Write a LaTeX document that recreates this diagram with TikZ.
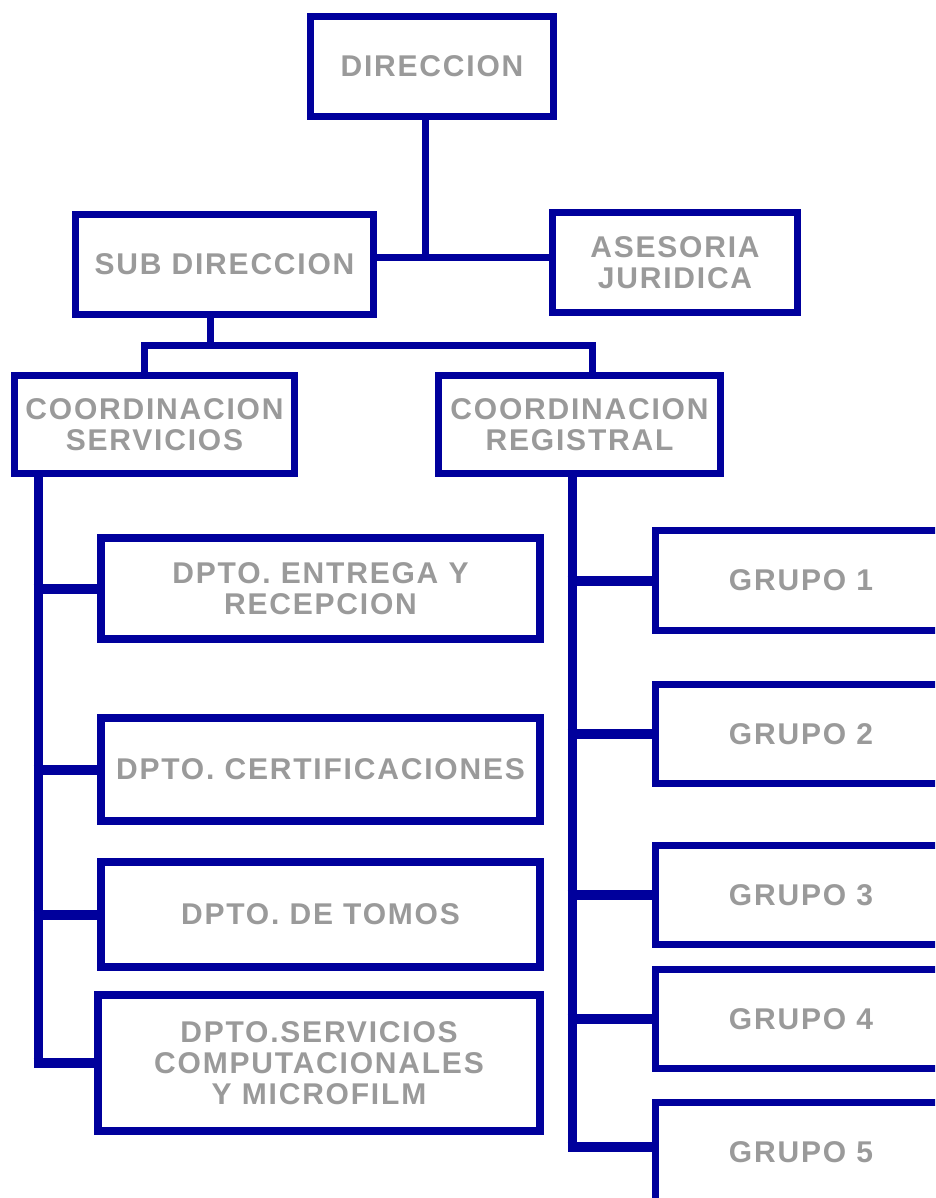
\documentclass[tikz,border=0pt]{standalone}
\usepackage{fontspec}
\setmainfont{Liberation Sans}[LetterSpace=6]
\definecolor{navy}{HTML}{00009C}
\definecolor{txt}{HTML}{9A9A9A}
\begin{document}
\begin{tikzpicture}[x=1pt,y=-1pt,
  box/.style={draw=navy, line width=7pt, rectangle, inner sep=0pt, align=center,
    text=txt, font=\fontsize{30}{31}\selectfont\bfseries},
  dbox/.style={box, line width=8pt},
  conn/.style={draw=navy, line width=7pt},
  spine/.style={draw=navy, line width=9pt},
  branch/.style={draw=navy, line width=10pt}]
\path[use as bounding box, clip] (0,0) rectangle (935,1198);
\fill[white] (0,0) rectangle (935,1198);

% top level
\node[box, minimum width=243pt, minimum height=100pt] (dir) at (432,66.5) {DIRECCION};
\node[box, minimum width=298pt, minimum height=100pt] (sub) at (224.5,264.5) {SUB DIRECCION};
\node[box, minimum width=245pt, minimum height=100pt] (ase) at (675,262.5) {ASESORIA\\JURIDICA};

% coordinations
\node[box, minimum width=280pt, minimum height=98pt] (cs) at (154.5,424.5) {COORDINACION\\SERVICIOS};
\node[box, minimum width=282pt, minimum height=98pt] (cr) at (579.5,424.5) {COORDINACION\\REGISTRAL};

% departments
\node[dbox, minimum width=439pt, minimum height=101pt] (d1) at (320.5,588.5) {DPTO. ENTREGA Y\\RECEPCION};
\node[dbox, minimum width=439pt, minimum height=103pt] (d2) at (320.5,769.5) {DPTO. CERTIFICACIONES};
\node[dbox, minimum width=439pt, minimum height=105pt] (d3) at (320.5,914.5) {DPTO. DE TOMOS};
\node[dbox, minimum width=442pt, minimum height=136pt] (d4) at (319,1063) {DPTO.SERVICIOS\\COMPUTACIONALES\\Y MICROFILM};

% groups
\node[box, minimum width=291pt, minimum height=100pt] (g1) at (801,580.5) {GRUPO 1};
\node[box, minimum width=291pt, minimum height=99pt] (g2) at (801,734) {GRUPO 2};
\node[box, minimum width=291pt, minimum height=99pt] (g3) at (801,895) {GRUPO 3};
\node[box, minimum width=291pt, minimum height=99pt] (g4) at (801,1019) {GRUPO 4};
\node[box, minimum width=291pt, minimum height=100pt] (g5) at (801,1152.5) {GRUPO 5};

% connectors top
\coordinate (j1) at (425,257);
\draw[conn] (dir.south -| j1) -- (j1);
\draw[conn] (sub.east |- j1) -- (ase.west |- j1);

\coordinate (j2) at (210,345);
\coordinate (jl) at (144,345);
\coordinate (jr) at (592,345);
\draw[conn] (sub.south -| j2) -- (j2);
\draw[conn] (cs.north -| jl) -- (jl) -- (jr) -- (cr.north -| jr);

% left spine
\coordinate (ls) at (38,0);
\draw[spine] (cs.south -| ls) -- (ls |- d4.west);
\draw[branch] ([xshift=-4.5pt]ls |- d1.west) -- (d1.west);
\draw[branch] ([xshift=-4.5pt]ls |- d2.west) -- (d2.west);
\draw[branch] ([xshift=-4.5pt]ls |- d3.west) -- (d3.west);
\draw[branch] ([xshift=-4.5pt]ls |- d4.west) -- (d4.west);

% right spine
\coordinate (rs) at (572,0);
\draw[spine] (cr.south -| rs) -- ([yshift=1pt]rs |- g5.west);
\draw[branch] ([xshift=-4.5pt]rs |- g1.west) -- (g1.west);
\draw[branch] ([xshift=-4.5pt]rs |- g2.west) -- (g2.west);
\draw[branch] ([xshift=-4.5pt]rs |- g3.west) -- (g3.west);
\draw[branch] ([xshift=-4.5pt]rs |- g4.west) -- (g4.west);
\draw[branch] ([xshift=-4.5pt,yshift=6pt]rs |- g5.west) -- ([yshift=6pt]g5.west);
\end{tikzpicture}
\end{document}
